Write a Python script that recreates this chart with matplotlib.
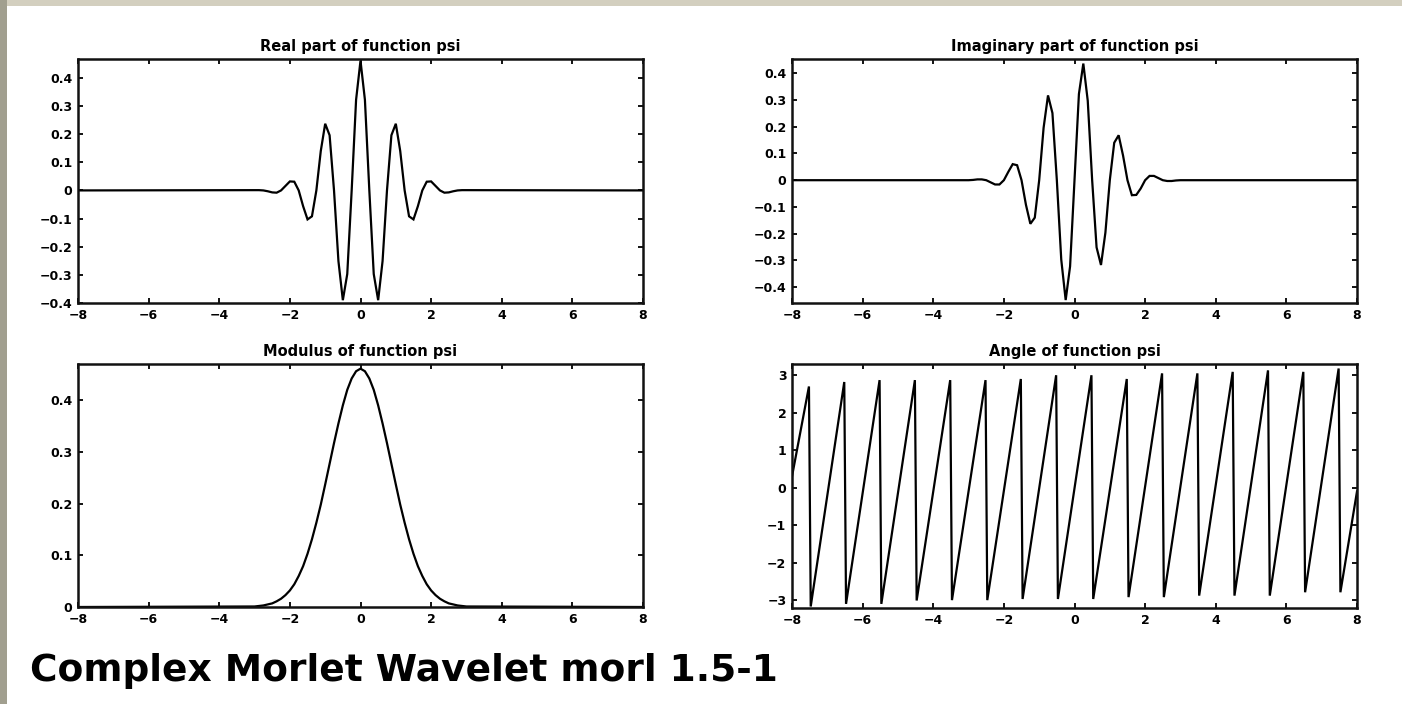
import matplotlib
matplotlib.use("Agg")
import matplotlib.pyplot as plt
from matplotlib.patches import Rectangle

plt.rcParams.update({
    "font.family":       "DejaVu Sans",
    "font.size":         9,
    "axes.linewidth":    1.8,
    "xtick.direction":   "in",
    "ytick.direction":   "in",
    "xtick.top":         True,
    "ytick.right":       True,
    "xtick.major.size":  3.5,
    "ytick.major.size":  3.5,
    "xtick.major.width": 1.3,
    "ytick.major.width": 1.3,
    "xtick.major.pad":   4,
    "ytick.major.pad":   4,
})

# --- values (cmor 1.5-1 on [-8, 8]) ---
X_WAVE = [-8.0,
          -3.0, -2.875, -2.75, -2.625, -2.5, -2.375, -2.25, -2.125,
          -2.0, -1.875, -1.75, -1.625, -1.5, -1.375, -1.25, -1.125,
          -1.0, -0.875, -0.75, -0.625, -0.5, -0.375, -0.25, -0.125,
          0.0,
          0.125, 0.25, 0.375, 0.5, 0.625, 0.75, 0.875, 1.0,
          1.125, 1.25, 1.375, 1.5, 1.625, 1.75, 1.875, 2.0,
          2.125, 2.25, 2.375, 2.5, 2.625, 2.75, 2.875, 3.0,
          8.0]

REAL_PART = [0.0,
             0.001, 0.001, 0.0, -0.003, -0.007, -0.008, 0.0, 0.016,
             0.032, 0.031, 0.0, -0.056, -0.103, -0.092, 0.0, 0.140,
             0.237, 0.196, 0.0, -0.251, -0.390, -0.297, 0.0, 0.322,
             0.461,
             0.322, 0.0, -0.297, -0.390, -0.251, 0.0, 0.196, 0.237,
             0.140, 0.0, -0.092, -0.103, -0.056, 0.0, 0.031, 0.032,
             0.016, 0.0, -0.008, -0.007, -0.003, 0.0, 0.001, 0.001,
             0.0]

IMAG_PART = [0.0,
             0.0, 0.001, 0.003, 0.003, 0.0, -0.008, -0.016, -0.016,
             0.0, 0.031, 0.060, 0.056, 0.0, -0.092, -0.163, -0.140,
             0.0, 0.196, 0.317, 0.251, 0.0, -0.297, -0.448, -0.322,
             0.0,
             0.322, 0.436, 0.297, 0.0, -0.251, -0.317, -0.196, 0.0,
             0.140, 0.168, 0.092, 0.0, -0.056, -0.055, -0.031, 0.0,
             0.016, 0.016, 0.008, 0.0, -0.003, -0.003, -0.001, 0.0,
             0.0]

MODULUS = [0.0,
           0.001, 0.002, 0.003, 0.005, 0.007, 0.011, 0.016, 0.023,
           0.032, 0.044, 0.060, 0.079, 0.103, 0.131, 0.163, 0.198,
           0.237, 0.277, 0.317, 0.355, 0.390, 0.420, 0.442, 0.456,
           0.461,
           0.456, 0.442, 0.420, 0.390, 0.355, 0.317, 0.277, 0.237,
           0.198, 0.163, 0.131, 0.103, 0.079, 0.060, 0.044, 0.032,
           0.023, 0.016, 0.011, 0.007, 0.005, 0.003, 0.002, 0.001,
           0.0]

# phase: top / bottom of every sawtooth tooth around the wraps
ANGLE_X = [-8.0,
           -7.52, -7.47, -6.52, -6.47, -5.52, -5.47, -4.52, -4.47,
           -3.52, -3.47, -2.52, -2.47, -1.52, -1.47, -0.52, -0.47,
           0.48, 0.53, 1.48, 1.53, 2.48, 2.53, 3.48, 3.53,
           4.48, 4.53, 5.48, 5.53, 6.48, 6.53, 7.48, 7.53,
           8.0]
ANGLE_Y = [0.30,
           2.70, -3.17, 2.82, -3.10, 2.87, -3.10, 2.87, -3.01,
           2.87, -3.00, 2.87, -3.00, 2.90, -2.97, 3.00, -2.97,
           3.00, -2.97, 2.90, -2.92, 3.05, -2.92, 3.05, -2.88,
           3.09, -2.88, 3.13, -2.88, 3.09, -2.79, 3.18, -2.79,
           -0.10]

X_TICKS = [-8, -6, -4, -2, 0, 2, 4, 6, 8]
Y_TICKS_RE = [-0.4, -0.3, -0.2, -0.1, 0, 0.1, 0.2, 0.3, 0.4]
Y_TICKS_IM = [-0.4, -0.3, -0.2, -0.1, 0, 0.1, 0.2, 0.3, 0.4]
Y_TICKS_MOD = [0, 0.1, 0.2, 0.3, 0.4]
Y_TICKS_ANG = [-3, -2, -1, 0, 1, 2, 3]

W, H = 1402, 704
fig = plt.figure(figsize=(W / 100, H / 100), dpi=100)
fig.patch.set_facecolor("white")

# slide border strips (top and left)
fig.patches.append(Rectangle((0, 1 - 6 / H), 1, 6 / H, transform=fig.transFigure,
                             facecolor="#d3cfbf", edgecolor="none", zorder=0))
fig.patches.append(Rectangle((0, 0), 7 / W, 1, transform=fig.transFigure,
                             facecolor="#a19f8f", edgecolor="none", zorder=0))


def px_axes(x0, y0, x1, y1):
    return fig.add_axes([x0 / W, 1 - y1 / H, (x1 - x0) / W, (y1 - y0) / H])


def tick_text(v):
    return f"{v:g}".replace("-", "\u2212")


ax_re = px_axes(78, 59, 643, 303)
ax_im = px_axes(792, 59, 1357, 303)
ax_mod = px_axes(78, 364, 643, 607)
ax_ang = px_axes(792, 364, 1357, 608)

panels = [
    (ax_re, X_WAVE, REAL_PART, "Real part of function psi", (-0.40, 0.467), Y_TICKS_RE),
    (ax_im, X_WAVE, IMAG_PART, "Imaginary part of function psi", (-0.459, 0.453), Y_TICKS_IM),
    (ax_mod, X_WAVE, MODULUS, "Modulus of function psi", (0.0, 0.47), Y_TICKS_MOD),
    (ax_ang, ANGLE_X, ANGLE_Y, "Angle of function psi", (-3.21, 3.3), Y_TICKS_ANG),
]

for ax, xs, ys, title, ylim, yticks in panels:
    ax.plot(xs, ys, color="black", linewidth=1.6, solid_joinstyle="miter")
    ax.set_xlim(-8, 8)
    ax.set_ylim(*ylim)
    ax.set_xticks(X_TICKS)
    ax.set_xticklabels([tick_text(t) for t in X_TICKS])
    ax.set_yticks(yticks)
    ax.set_yticklabels([tick_text(t) for t in yticks])
    ax.set_title(title, fontsize=10.5, fontweight="bold", pad=6)
    for lab in ax.get_xticklabels() + ax.get_yticklabels():
        lab.set_fontweight("bold")
    for sp in ax.spines.values():
        sp.set_color("#111111")

fig.text(30 / W, 1 - 681 / H, "Complex Morlet Wavelet morl 1.5-1",
         fontsize=27, fontweight="bold", ha="left", va="baseline")

fig.savefig("out.png", dpi=100)
